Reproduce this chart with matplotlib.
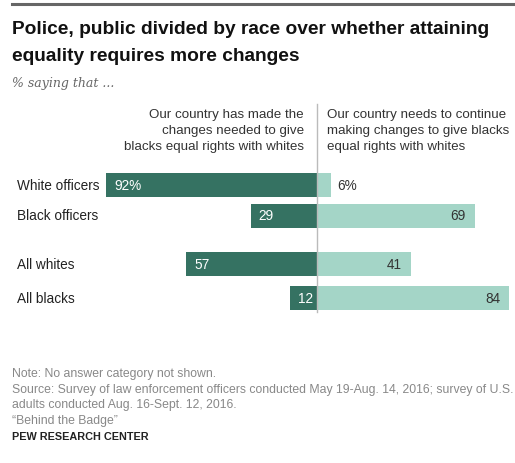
import matplotlib.pyplot as plt
from matplotlib.lines import Line2D

groups = ["White officers", "Black officers", "All whites", "All blacks"]
made_changes = [92, 29, 57, 12]
need_changes = [6, 69, 41, 84]
made_labels = ["92%", "29", "57", "12"]
need_labels = ["6%", "69", "41", "84"]

title_lines = ["Police, public divided by race over whether attaining",
               "equality requires more changes"]
subtitle = "% saying that ..."
left_header = ["Our country has made the", "changes needed to give",
               "blacks equal rights with whites"]
right_header = ["Our country needs to continue", "making changes to give blacks",
                "equal rights with whites"]
notes = ["Note: No answer category not shown.",
         "Source: Survey of law enforcement officers conducted May 19-Aug. 14, 2016; survey of U.S.",
         "adults conducted Aug. 16-Sept. 12, 2016.",
         "\u201cBehind the Badge\u201d"]

DARK = "#357262"
LIGHT = "#a4d5c7"
W, H = 515, 464

fig = plt.figure(figsize=(W / 100, H / 100), dpi=100)
plt.rcParams['font.family'] = ['Liberation Sans', 'DejaVu Sans']

def fy(px):
    return 1 - px / H

# top rule
fig.add_artist(Line2D([12 / W, 1], [fy(5)] * 2, color="#666666", lw=2.2))

for i, line in enumerate(title_lines):
    fig.text(12 / W, fy(34 + 27 * i), line, fontsize=13.8, fontweight="bold",
             va="baseline", ha="left", color="#111111")
fig.text(12 / W, fy(83), subtitle, fontsize=9, style="italic", va="center",
         family="DejaVu Serif", color="#666666")

# bars axes: y unit = 30.5 px, first bar center at 186 px
ypos = [0, 1, 2.6, 3.7]
unit = 30.5
top_px = 186 - 0.6 * unit
bot_px = 186 + 4.2 * unit
ax = fig.add_axes([0, fy(bot_px), 1, (bot_px - top_px) / H])
scale = 2.29
ax.set_xlim(-317 / scale, (W - 317) / scale)
ax.set_ylim(4.2, -0.6)
ax.axis("off")

bh = 24 / unit
ax.barh(ypos, [-v for v in made_changes], height=bh, color=DARK)
ax.barh(ypos, need_changes, height=bh, color=LIGHT)
ax.plot([0, 0], [-2.65, 4.15], color="#bbbbbb", lw=1, clip_on=False, zorder=3)

lab_x = -(317 - 17) / scale
for y, g, m, n, ml, nl in zip(ypos, groups, made_changes, need_changes,
                              made_labels, need_labels):
    ax.text(lab_x, y, g, ha="left", va="center", fontsize=9.8, color="#222222")
    ax.text(-m + 3.6, y, ml, ha="left", va="center", fontsize=9.8, color="white",
            zorder=4)
    if n < 15:
        ax.text(n + 3, y, nl, ha="left", va="center", fontsize=9.8, color="#333333")
    else:
        ax.text(n - 4, y, nl, ha="right", va="center", fontsize=9.8, color="#333333")

for i, (lh, rh) in enumerate(zip(left_header, right_header)):
    fig.text(304 / W, fy(115 + 16 * i), lh, ha="right", va="center",
             fontsize=9.6, color="#333333")
    fig.text(327 / W, fy(115 + 16 * i), rh, ha="left", va="center",
             fontsize=9.6, color="#333333")

for i, line in enumerate(notes):
    fig.text(12 / W, fy(374 + 15.7 * i), line, ha="left", va="center",
             fontsize=8.8, color="#888888")
fig.text(12 / W, fy(437), "PEW RESEARCH CENTER", ha="left", va="center",
         fontsize=7.8, fontweight="bold", color="#222222")

fig.savefig("out.png", dpi=100)
